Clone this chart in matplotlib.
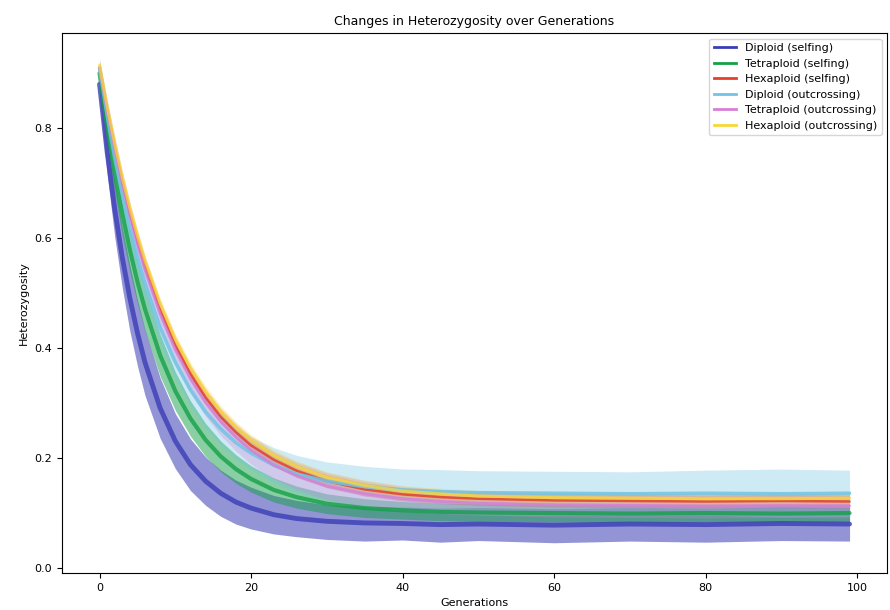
import matplotlib
matplotlib.use("Agg")
import matplotlib.pyplot as plt
from matplotlib.lines import Line2D

plt.rcParams['font.family'] = ['DejaVu Sans']

gens = [0, 1, 2, 3, 4, 5, 6, 8, 10, 12, 14, 16, 18, 20, 23, 26, 30, 35, 40, 45, 50, 60, 70, 80, 90, 99]

labels = ['Diploid (selfing)', 'Tetraploid (selfing)', 'Hexaploid (selfing)',
          'Diploid (outcrossing)', 'Tetraploid (outcrossing)', 'Hexaploid (outcrossing)']

# Diploid (selfing)
dip_self_mid = [0.880, 0.757, 0.653, 0.565, 0.491, 0.428, 0.374, 0.291, 0.231, 0.188, 0.158, 0.136, 0.120,
                0.109, 0.097, 0.090, 0.085, 0.082, 0.081, 0.079, 0.080, 0.078, 0.080, 0.079, 0.081, 0.080]
dip_self_lo = [0.860, 0.717, 0.603, 0.510, 0.431, 0.368, 0.314, 0.236, 0.181, 0.141, 0.114, 0.094, 0.080,
               0.071, 0.062, 0.057, 0.052, 0.049, 0.051, 0.047, 0.050, 0.046, 0.049, 0.047, 0.050, 0.049]
dip_self_hi = [0.900, 0.797, 0.703, 0.620, 0.551, 0.488, 0.434, 0.346, 0.281, 0.235, 0.202, 0.178, 0.160,
               0.147, 0.132, 0.123, 0.115, 0.112, 0.111, 0.109, 0.110, 0.108, 0.110, 0.109, 0.111, 0.110]

# Tetraploid (selfing)
tet_self_mid = [0.900, 0.804, 0.719, 0.645, 0.579, 0.521, 0.471, 0.387, 0.322, 0.272, 0.233, 0.203, 0.180,
                0.162, 0.142, 0.129, 0.117, 0.109, 0.105, 0.102, 0.101, 0.100, 0.099, 0.100, 0.099, 0.100]
tet_self_lo = [0.885, 0.774, 0.684, 0.605, 0.539, 0.481, 0.431, 0.349, 0.287, 0.240, 0.203, 0.175, 0.154,
               0.138, 0.120, 0.109, 0.099, 0.092, 0.089, 0.086, 0.085, 0.084, 0.083, 0.084, 0.083, 0.084]
tet_self_hi = [0.915, 0.834, 0.754, 0.685, 0.619, 0.561, 0.511, 0.425, 0.357, 0.304, 0.263, 0.231, 0.206,
               0.186, 0.164, 0.149, 0.135, 0.126, 0.121, 0.118, 0.117, 0.116, 0.115, 0.116, 0.115, 0.116]

# Hexaploid (selfing)
hex_self_mid = [0.910, 0.833, 0.764, 0.702, 0.645, 0.595, 0.549, 0.470, 0.405, 0.353, 0.310, 0.275, 0.247,
                0.223, 0.197, 0.177, 0.158, 0.143, 0.134, 0.129, 0.126, 0.123, 0.122, 0.121, 0.122, 0.121]
hex_self_lo = [0.900, 0.821, 0.752, 0.690, 0.633, 0.583, 0.537, 0.458, 0.393, 0.341, 0.298, 0.263, 0.235,
               0.211, 0.185, 0.165, 0.146, 0.131, 0.122, 0.117, 0.114, 0.111, 0.110, 0.109, 0.110, 0.109]
hex_self_hi = [0.920, 0.845, 0.776, 0.714, 0.657, 0.607, 0.561, 0.482, 0.417, 0.365, 0.322, 0.287, 0.259,
               0.235, 0.209, 0.189, 0.170, 0.155, 0.146, 0.141, 0.138, 0.135, 0.134, 0.133, 0.134, 0.133]

# Diploid (outcrossing)
dip_out_mid = [0.910, 0.824, 0.747, 0.680, 0.619, 0.565, 0.518, 0.437, 0.374, 0.324, 0.284, 0.253, 0.228,
               0.209, 0.187, 0.171, 0.158, 0.148, 0.142, 0.139, 0.137, 0.136, 0.135, 0.136, 0.135, 0.136]
dip_out_lo = [0.895, 0.799, 0.717, 0.650, 0.589, 0.535, 0.488, 0.407, 0.344, 0.294, 0.254, 0.223, 0.198,
              0.179, 0.155, 0.137, 0.123, 0.111, 0.104, 0.099, 0.097, 0.096, 0.095, 0.096, 0.093, 0.094]
dip_out_hi = [0.925, 0.849, 0.777, 0.710, 0.649, 0.595, 0.548, 0.467, 0.404, 0.354, 0.314, 0.283, 0.258,
              0.239, 0.219, 0.205, 0.193, 0.185, 0.180, 0.179, 0.177, 0.176, 0.175, 0.178, 0.180, 0.178]

# Tetraploid (outcrossing)
tet_out_mid = [0.910, 0.832, 0.762, 0.698, 0.641, 0.589, 0.542, 0.462, 0.397, 0.344, 0.301, 0.266, 0.238,
               0.214, 0.187, 0.168, 0.149, 0.135, 0.126, 0.121, 0.118, 0.115, 0.114, 0.113, 0.114, 0.113]
tet_out_lo = [0.895, 0.812, 0.737, 0.673, 0.616, 0.564, 0.517, 0.437, 0.372, 0.319, 0.276, 0.241, 0.213,
              0.189, 0.162, 0.143, 0.124, 0.111, 0.103, 0.099, 0.096, 0.093, 0.092, 0.091, 0.092, 0.091]
tet_out_hi = [0.925, 0.852, 0.787, 0.723, 0.666, 0.614, 0.567, 0.487, 0.422, 0.369, 0.326, 0.291, 0.263,
              0.239, 0.212, 0.193, 0.174, 0.159, 0.149, 0.143, 0.140, 0.137, 0.136, 0.135, 0.136, 0.135]

# Hexaploid (outcrossing)
hex_out_mid = [0.915, 0.840, 0.772, 0.711, 0.655, 0.605, 0.559, 0.481, 0.416, 0.364, 0.321, 0.285, 0.256,
               0.233, 0.205, 0.185, 0.165, 0.150, 0.140, 0.135, 0.131, 0.128, 0.127, 0.126, 0.126, 0.127]
hex_out_lo = [0.905, 0.830, 0.762, 0.701, 0.645, 0.595, 0.549, 0.471, 0.406, 0.354, 0.311, 0.275, 0.246,
              0.223, 0.195, 0.175, 0.155, 0.140, 0.130, 0.125, 0.121, 0.118, 0.117, 0.116, 0.116, 0.117]
hex_out_hi = [0.925, 0.850, 0.782, 0.721, 0.665, 0.615, 0.569, 0.491, 0.426, 0.374, 0.331, 0.295, 0.266,
              0.243, 0.215, 0.195, 0.175, 0.160, 0.150, 0.145, 0.141, 0.138, 0.137, 0.136, 0.136, 0.137]

# (lo, mid, hi, colour, core line width, band alpha, line alpha)
groups = [
    (dip_self_lo, dip_self_mid, dip_self_hi, '#3b3db5', 3.5, 0.55, 0.8),
    (tet_self_lo, tet_self_mid, tet_self_hi, '#15a048', 3.0, 0.50, 0.8),
    (hex_self_lo, hex_self_mid, hex_self_hi, '#e5402c', 1.8, 0.40, 0.85),
    (dip_out_lo, dip_out_mid, dip_out_hi, '#72c3e5', 2.6, 0.35, 0.85),
    (tet_out_lo, tet_out_mid, tet_out_hi, '#d67fd6', 2.0, 0.30, 0.8),
    (hex_out_lo, hex_out_mid, hex_out_hi, '#f8d838', 2.2, 0.30, 0.75),
]

fig = plt.figure(figsize=(8.9, 6.1), dpi=100)
ax = fig.add_axes([0.0697, 0.0607, 0.927, 0.885])

for lo, mid, hi, col, lw, a, la in groups:
    ax.fill_between(gens, lo, hi, color=col, alpha=a, lw=0)
    ax.plot(gens, mid, color=col, lw=lw, alpha=la, solid_capstyle='round')

ax.set_xlim(-4.95, 103.95)
ax.set_ylim(-0.009, 0.973)
ax.set_xticks([0, 20, 40, 60, 80, 100])
ax.set_yticks([0.0, 0.2, 0.4, 0.6, 0.8])
ax.tick_params(labelsize=8)
ax.set_xlabel('Generations', fontsize=8)
ax.set_ylabel('Heterozygosity', fontsize=8)
ax.set_title('Changes in Heterozygosity over Generations', fontsize=9)

handles = [Line2D([], [], color=g[3], lw=2) for g in groups]
ax.legend(handles, labels, loc='upper right', fontsize=8, framealpha=0.8)

fig.savefig('out.png', dpi=100)
